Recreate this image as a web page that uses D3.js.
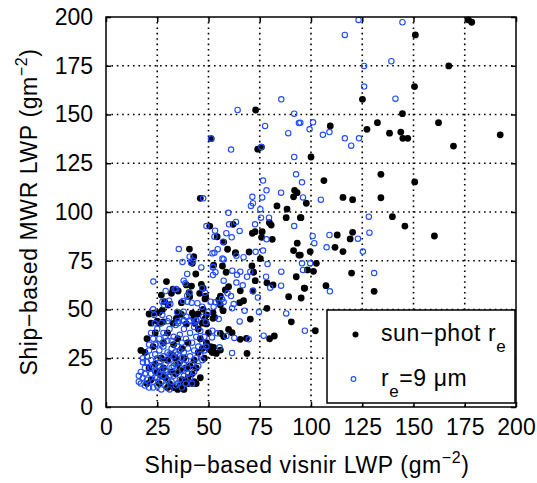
<!DOCTYPE html>
<html>
<head>
<meta charset="utf-8">
<script src="https://cdn.jsdelivr.net/npm/d3@7"></script>
<style>
  body { margin: 0; background: #fff; }
  text { font-family: "Liberation Sans", Arial, Helvetica, sans-serif; }
</style>
</head>
<body>
<div id="chart"></div>
<script>
// tick values (both axes)
const tickVals = [0, 25, 50, 75, 100, 125, 150, 175, 200];

// sun-photometer r_e retrievals [visnir LWP, MWR LWP]
const sunPhot = [
  [176.8,198.5],[178.4,197.3],[150.9,190.8],[167.2,174.9],[150.5,164.3],[125.1,157.8],[144.6,150.4],[109.4,144.1],
  [132.4,145.8],[127.3,142.4],[138.3,140.4],[143.8,141],[144.8,137.8],[147.2,137.8],[162.2,145.8],[169.5,133.8],
  [192.3,139.6],[100,128.2],[134.1,119.3],[150.6,115.4],[106.3,116.1],[97.7,104.5],[115.6,107.5],[120.3,106.3],
  [134.1,107.3],[94.8,97.1],[139.7,97.6],[145.8,92.8],[160.2,87.7],[112.8,88.2],[120.3,89.6],[119.1,86.2],
  [111.7,81.9],[115.6,79.7],[99.6,79.7],[94.8,77.9],[102.6,73.7],[98.3,70.3],[101.2,69.6],[119.8,68.7],
  [130.8,59.3],[107.3,62.2],[96.7,61],[95.2,55.9],
  [73,152.3],[51.3,137.6],[75.8,133.3],[74,132.2],[46,107],[92,111.1],[93.2,109.9],[91.5,107.8],[83.4,103.1],
  [88.3,101.5],[87.9,97.1],[95.1,97.1],[50.6,92.8],[62,93.7],[79.7,94.5],[80.6,93.3],[71.4,89.1],[72.7,89.9],
  [76.2,89.9],[75.9,87],[81.1,86],[54.2,87.3],[57.4,84.6],[93.3,84],[40.7,81],[42.8,77.1],[59.3,80.9],[63.2,79.1],
  [69.8,79.5],[75.3,76.1],[91.5,80.2],[94.1,77.9],
  [63.1,78.8],[56.8,72.3],[58.6,69.1],[72,69.1],[71.2,72.3],[92.8,66.8],[96.9,60.9],[72.8,64.8],[78.5,63.7],
  [81.5,62.6],[59.8,61.7],[58.2,60],[65.5,59.6],[71.7,59.5],[55.8,56.9],[55,54.9],[55.8,52.3],[57.1,49.4],
  [67.1,54.5],[65.2,53.5],[89.1,56.6],[78.5,50.6],[90.4,43.7],[70.4,45.1],[52.2,45.5],[102.1,39.1],[59.8,39.8],
  [61.5,38.1],[57.4,36.1],[55.8,37.8],[65.5,34.7],[68.5,35.2],[79.8,35],[82.1,36.4],[52.5,30.6],[53.8,27.5],
  [51.7,28.2],[55.8,29.2],[68.8,27.5],
  [42.1,73.7],[43.8,68.2],[29.5,64.3],[32.7,60.4],[31.9,58.3],[35.2,59.5],[40.5,58.6],[40.8,56.6],[41.7,62],
  [39.2,62.6],[46.5,62.9],[47.4,60.9],[48.6,56.9],[45.7,58.3],[48.3,55.4],[52.5,72.8],[27,57.4],[28.6,54],
  [30.3,52.3],[27.5,49.7],[36.8,53.5],[25.9,48.4],[23,48.1],[21,47.7],[35.2,48.4],[36.8,47.5],[34.3,45.5],
  [42.1,48.1],[42.8,45.5],[44.9,47.7],[47.4,50.1],[49,47.2],[48.1,45],[52.2,48.4],[53,46],[26.2,42.9],[27.9,43.7],
  [32.7,42.9],[39.2,42.6],[43.3,42.9],[49,42.6],
  [19,28],[17,29],[20,35],[24,38],[23,31],[21,20],[20,12],[22,14],[24,22],[25,18],[26,12],[27,25],[28,20],[28,33],
  [29,15],[30,24],[30,38],[31,12],[32,18],[32,27],[33,32],[33,10],[34,17],[34,25],[35,35],[35,22],[36,11],[36,19],
  [37,30],[37,14],[38,9],[38,25],[39,20],[39,13],[40,15],[40,12],[40,33],[41,21],[42,17],[42,12],[43,13],[44,12],
  [43,24],[44,20],[45,28],[46,15],[46,35],[47,30],[48,25],[49,33],[50,30],[51,31],[52,28],[47,43],[45,40],[50,38],
  [22,43],[25,44],[35,9],[30,10],[27,16]
];

// fixed r_e = 9 um retrievals [visnir LWP, MWR LWP]
const fixedRe = [
  [123.2,198.5],[144.6,197.3],[116.5,190.8],[139.2,177.3],[125.9,174.9],[125.9,164.3],[141.2,158.1],[101,146],
  [94.8,145.8],[99.3,142.4],[105.8,139.6],[109,141],[116.5,137.8],[123.4,137.8],[119.6,134],[95.6,115.2],
  [96.1,107.5],[104.8,106.3],[128.2,97.6],[100.8,87.7],[109,88.2],[101.6,84],[128.5,89.4],[122.9,86.3],
  [107.6,81.9],[125.3,79.7],[95.6,73.7],[99.6,73.7],[96.1,70.3],[130.8,68.7],[109.2,59.3],
  [85.5,157.8],[64.2,152.3],[91.8,150.4],[94.1,145.6],[77.6,144.1],[88.9,140.4],[61,132],[51.3,137.6],[75.8,133.3],
  [91.8,128.2],[76.6,116.1],[92.7,119.3],[78.3,111.1],[85.4,109.9],[71.4,107.8],[76.2,107.5],[47.4,107],[71.7,104.5],
  [70.7,103.1],[75.3,101.4],[59.7,99.6],[79.5,97.1],[75.6,97.1],[49,92.8],[63.4,94.9],[60,93.7],[72.7,93.7],
  [91.8,92.8],[53.2,90.4],[65.2,90.3],[58.7,89.1],[52.9,87.3],[61.3,87],[78.3,86],[35.5,81],[54.5,80.9],[52.9,79.1],
  [51.9,78.8],[40.8,77.1],[63.6,77.6],[73,79.6],[76.6,80.2],[56.8,76.1],
  [57.1,84.8],[57.4,75.7],[67.1,76.8],[52.2,71.9],[53.4,69.1],[61.6,69.9],[65.5,69.4],[63.9,67.8],[70.4,69.4],
  [68.8,66.8],[78.8,73.3],[78.1,66.8],[85.5,69.4],[57.4,64.8],[63.6,63.8],[66.7,62.4],[80.1,61.2],[85.4,62.2],
  [71.7,59.5],[61,56.9],[59.3,58.3],[56.6,55.4],[55.4,53.5],[57.4,53.8],[74.1,56.1],[52.5,51.4],[53.3,53.7],
  [62.3,52.8],[61.5,50.6],[67.6,49.4],[74.6,48.7],[55,45.1],[65.2,43.9],[87.9,48],[97,39.1],[51.9,39.1],[54.2,37.8],
  [51.7,35.7],[58.7,36.4],[62.6,35.4],[69.6,34.7],[76.9,36.6],[55.4,30.6],[61.5,27.7],
  [37.3,74.4],[39.6,68.2],[46.5,71.6],[42.5,75],[41.5,74],[23.1,64.3],[37.9,64.8],[38.7,63.4],[33.5,60.4],
  [34.3,60.5],[29.1,59.5],[39.6,57.1],[40.8,58.6],[41.8,53.5],[39.7,54],[44.6,53.2],[46.9,61],[48.3,58.6],
  [52.2,67.7],[52.2,71.6],[27.5,54],[28.2,52.3],[30.8,54.5],[31.4,52.8],[37.6,54.4],[23,50.1],[23.5,47.2],
  [34.7,48.7],[37.9,48.9],[39.2,46.3],[46.9,51.4],[49.8,48.6],[47.4,46.3],[51.1,54],[30.8,45.5],[27.5,47.2],
  [40.8,44.3],[37.9,44.6],[44.1,44.6],[48.6,43.4],[23.8,42.9],[35.2,42.9],
  [17,12],[18,15],[17,18],[19,11],[20,14],[19,20],[18,23],[20,26],[21,29],[22,24],[22,17],[21,10],[23,13],[23,21],
  [24,27],[24,32],[24,18],[25,11],[25,15],[26,23],[26,35],[26,29],[27,19],[27,13],[27,9],[28,26],[28,31],[28,38],
  [28,16],[29,22],[29,11],[30,28],[30,34],[30,18],[30,14],[31,24],[31,40],[31,9],[32,30],[32,20],[32,13],[33,36],
  [33,26],[33,16],[34,22],[34,11],[34,42],[35,31],[35,18],[35,27],[36,14],[36,37],[36,23],[37,33],[37,10],[37,19],
  [38,28],[38,40],[38,16],[39,24],[39,35],[39,12],[40,30],[40,20],[41,38],[41,26],[41,15],[42,33],[42,22],[43,29],
  [43,41],[43,18],[44,25],[44,36],[45,31],[45,21],[46,27],[46,39],[47,33],[47,24],[48,36],[48,29],[49,31],[16,16],
  [16,13],[19,17],[22,20],[23,10],[25,25],[26,17],[27,32],[29,36],[31,16],[32,34],[33,21],[35,12],[36,29],[38,22],
  [40,17],[42,12],[29,19],[34,28],[37,25],[31,27],[26,21],[24,15],[20,23],[18,25],[21,32],[23,35],[27,43],[30,44],
  [25,40],[22,38],[35,44],[38,44],[44,44],[41,44]
];

// legend entries
const legendLabels = ["sun\u2212phot r", "r"];

// dimensions
const width = 537, height = 483;
const margin = {top: 17, right: 21, bottom: 76, left: 106};
const fontSize = 23;
const blue = "#1f4cff";

const svg = d3.select("#chart")
    .append("svg")
    .attr("width", width)
    .attr("height", height);

// scales
const xScale = d3.scaleLinear()
    .domain([0, 200])
    .range([margin.left, width - margin.right]);
const yScale = d3.scaleLinear()
    .domain([0, 200])
    .range([height - margin.bottom, margin.top]);

const x0 = xScale(0), x1 = xScale(200), y0 = yScale(0), y1 = yScale(200);

// dotted grid
const grid = svg.append("g").attr("stroke", "#000").attr("stroke-width", 1.6)
    .attr("stroke-dasharray", "1.6,3.8");
grid.selectAll(".vgrid")
    .data(tickVals.slice(1, -1))
    .enter().append("line")
    .attr("x1", d => xScale(d)).attr("x2", d => xScale(d))
    .attr("y1", y0).attr("y2", y1);
grid.selectAll(".hgrid")
    .data(tickVals.slice(1, -1))
    .enter().append("line")
    .attr("y1", d => yScale(d)).attr("y2", d => yScale(d))
    .attr("x1", x0).attr("x2", x1);

// points: black first, blue rings on top
svg.append("g").selectAll("circle")
    .data(sunPhot)
    .enter().append("circle")
    .attr("cx", d => xScale(d[0]))
    .attr("cy", d => yScale(d[1]))
    .attr("r", 3.4)
    .attr("fill", "#000");

svg.append("g").selectAll("circle")
    .data(fixedRe)
    .enter().append("circle")
    .attr("cx", d => xScale(d[0]))
    .attr("cy", d => yScale(d[1]))
    .attr("r", 2.7)
    .attr("fill", "none")
    .attr("stroke", blue)
    .attr("stroke-width", 1.1);

// axes with inward ticks
function styleAxis(g) {
    g.select(".domain").remove();
    g.selectAll(".tick line").attr("stroke", "#000").attr("stroke-width", 1.5);
    g.selectAll("text").attr("font-size", fontSize).attr("fill", "#000")
        .attr("font-family", "Liberation Sans, Arial, Helvetica, sans-serif");
}
svg.append("g")
    .attr("transform", "translate(0," + y0 + ")")
    .call(d3.axisBottom(xScale).tickValues(tickVals).tickSize(-5).tickPadding(12))
    .call(styleAxis);
svg.append("g")
    .attr("transform", "translate(0," + y1 + ")")
    .call(d3.axisTop(xScale).tickValues(tickVals).tickSize(-5).tickFormat(""))
    .call(styleAxis);
svg.append("g")
    .attr("transform", "translate(" + x0 + ",0)")
    .call(d3.axisLeft(yScale).tickValues(tickVals).tickSize(-5).tickPadding(13))
    .call(styleAxis);
svg.append("g")
    .attr("transform", "translate(" + x1 + ",0)")
    .call(d3.axisRight(yScale).tickValues(tickVals).tickSize(-5).tickFormat(""))
    .call(styleAxis);

// box
svg.append("rect")
    .attr("x", x0).attr("y", y1)
    .attr("width", x1 - x0).attr("height", y0 - y1)
    .attr("fill", "none").attr("stroke", "#000").attr("stroke-width", 1.5);

// axis labels
const xLabel = svg.append("text")
    .attr("x", (x0 + x1) / 2 - 4)
    .attr("y", 473)
    .attr("text-anchor", "middle")
    .attr("letter-spacing", 0.6)
    .attr("font-size", fontSize);
xLabel.append("tspan").text("Ship\u2212based visnir LWP (gm");
xLabel.append("tspan").attr("dy", -10).attr("font-size", 16).text("\u22122");
xLabel.append("tspan").attr("dy", 10).text(")");

const yLabel = svg.append("text")
    .attr("transform", "translate(37," + ((y0 + y1) / 2) + ") rotate(-90)")
    .attr("text-anchor", "middle")
    .attr("letter-spacing", 0.6)
    .attr("font-size", fontSize);
yLabel.append("tspan").text("Ship\u2212based MWR LWP (gm");
yLabel.append("tspan").attr("dy", -10).attr("font-size", 16).text("\u22122");
yLabel.append("tspan").attr("dy", 10).text(")");

// legend
const legend = svg.append("g");
legend.append("rect")
    .attr("x", 327).attr("y", 310)
    .attr("width", x1 - 1 - 327).attr("height", 93)
    .attr("fill", "#fff").attr("stroke", "#000").attr("stroke-width", 1.5);
legend.append("circle")
    .attr("cx", 355.5).attr("cy", 334.5).attr("r", 3)
    .attr("fill", "#000");
legend.append("circle")
    .attr("cx", 353.5).attr("cy", 379).attr("r", 2.4)
    .attr("fill", "none").attr("stroke", blue).attr("stroke-width", 1.1);

const l1 = legend.append("text").attr("x", 381).attr("y", 341)
    .attr("letter-spacing", 0.6).attr("font-size", fontSize);
l1.append("tspan").text(legendLabels[0]);
l1.append("tspan").attr("dy", 11).attr("font-size", 17).text("e");

const l2 = legend.append("text").attr("x", 381).attr("y", 386)
    .attr("letter-spacing", 0.6).attr("font-size", fontSize);
l2.append("tspan").text(legendLabels[1]);
l2.append("tspan").attr("dy", 11).attr("font-size", 17).text("e");
l2.append("tspan").attr("dy", -11).text("=9 \u03bcm");
</script>
</body>
</html>
